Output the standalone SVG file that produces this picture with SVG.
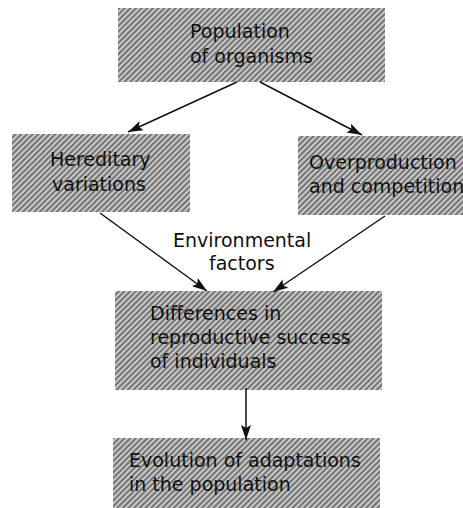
<svg xmlns="http://www.w3.org/2000/svg" width="463" height="508" viewBox="0 0 463 508">
<defs>
<pattern id="hatch" patternUnits="userSpaceOnUse" width="4" height="4" patternTransform="rotate(-45)">
<rect width="4" height="4" fill="#c8c8c8"/>
<line x1="0" y1="2" x2="4" y2="2" stroke="#3c3c3c" stroke-width="1.2"/>
</pattern>
<marker id="ah" markerUnits="userSpaceOnUse" markerWidth="16" markerHeight="12" refX="15" refY="6" orient="auto">
<path d="M0,1 L15,6 L0,11 L3,6 Z" fill="#111"/>
</marker>
<style>
.box{fill:url(#hatch);}
.t{font-family:"DejaVu Sans","Open Sans",sans-serif;font-size:19px;fill:#111;}
.c{stroke:#111;stroke-width:1.5;fill:none;marker-end:url(#ah);}
</style>
</defs>
<rect width="463" height="508" fill="#fff"/>
<g id="population">
<rect class="box" x="118" y="8" width="267" height="74"/>
<text class="t" x="190" y="38">Population</text>
<text class="t" x="190" y="63">of organisms</text>
</g>
<g id="hereditary">
<rect class="box" x="12" y="134" width="178" height="78"/>
<text class="t" x="50" y="166">Hereditary</text>
<text class="t" x="52" y="191">variations</text>
</g>
<g id="overproduction">
<rect class="box" x="298" y="136" width="165" height="79"/>
<text class="t" x="309" y="169">Overproduction</text>
<text class="t" x="309" y="193">and competition</text>
</g>
<g id="environmental">
<text class="t" x="173" y="247">Environmental</text>
<text class="t" x="209" y="270">factors</text>
</g>
<g id="differences">
<rect class="box" x="115" y="291" width="267" height="99"/>
<text class="t" x="150" y="320">Differences in</text>
<text class="t" x="150" y="344">reproductive success</text>
<text class="t" x="150" y="368">of individuals</text>
</g>
<g id="evolution">
<rect class="box" x="113" y="438" width="267" height="70"/>
<text class="t" x="129" y="467">Evolution of adaptations</text>
<text class="t" x="129" y="491">in the population</text>
</g>
<g id="connectors">
<line class="c" x1="237" y1="82" x2="128" y2="132"/>
<line class="c" x1="260" y1="82" x2="362" y2="135"/>
<line class="c" x1="100" y1="213" x2="207" y2="291"/>
<line class="c" x1="385" y1="216" x2="273" y2="292"/>
<line class="c" x1="246" y1="388" x2="246" y2="440"/>
</g>
</svg>
